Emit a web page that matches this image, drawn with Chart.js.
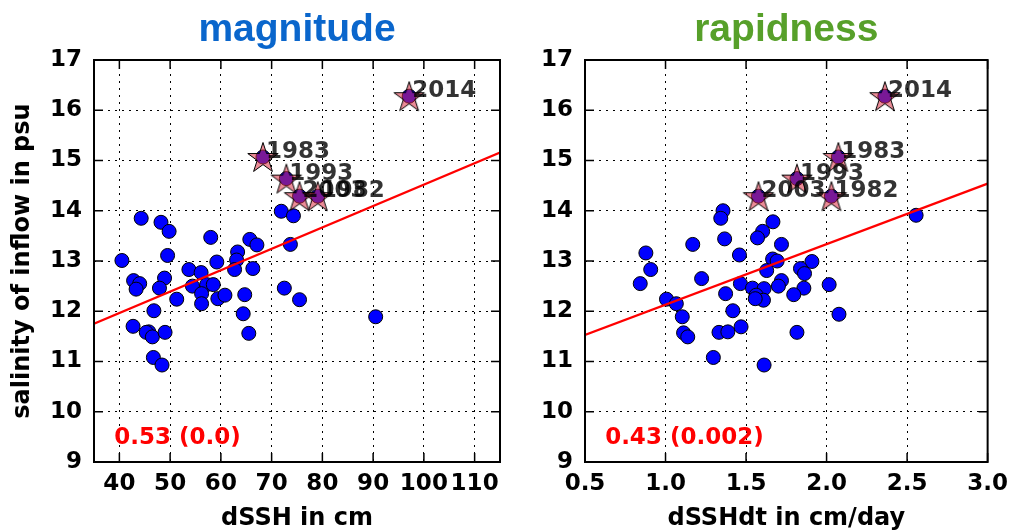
<!DOCTYPE html>
<html>
<head>
<meta charset="utf-8">
<script src="https://cdn.jsdelivr.net/npm/chart.js@4.4.0/dist/chart.umd.min.js"></script>
<style>
  html, body { margin: 0; padding: 0; background: #fff; }
  #wrap { position: relative; width: 1016px; height: 531px; }
  .panel { position: absolute; top: 0; width: 508px; height: 531px; }
</style>
</head>
<body>
<div id="wrap">
  <div class="panel" style="left:0"><canvas id="mag" width="508" height="531"></canvas></div>
  <div class="panel" style="left:508px"><canvas id="rap" width="508" height="531"></canvas></div>
</div>
<script>
// salinity vs dSSH (left) and dSSHdt (right)
const magX = [44.3, 48.2, 49.8, 71.9, 74.3, 58.0, 65.7, 67.1, 73.7, 63.3, 49.5, 40.5, 59.2, 63.1, 62.7,
  66.3, 53.7, 56.1, 42.8, 44.0, 48.9, 43.3, 47.9, 54.4, 57.2, 58.5, 56.2, 51.3, 59.4, 60.8,
  64.7, 56.2, 72.5, 75.5, 46.8, 64.4, 90.5, 42.7, 45.8, 45.3, 46.5, 49.0, 65.5, 46.7, 48.4];
const magY = [13.85, 13.77, 13.59, 13.99, 13.90, 13.47, 13.43, 13.32, 13.33, 13.18, 13.11, 13.01, 12.98, 13.02, 12.83,
  12.85, 12.83, 12.77, 12.61, 12.55, 12.66, 12.44, 12.46, 12.50, 12.53, 12.53, 12.35, 12.24, 12.25, 12.32,
  12.33, 12.15, 12.46, 12.23, 12.01, 11.95, 11.89, 11.70, 11.59, 11.58, 11.49, 11.58, 11.56, 11.08, 10.93];

const rapX = [1.357, 1.343, 1.667, 1.603, 1.571, 1.367, 1.169, 1.720, 0.878, 1.459, 1.665, 1.693, 1.909, 0.908, 1.838,
  1.628, 1.863, 1.224, 1.720, 0.843, 1.465, 2.016, 1.540, 1.612, 1.701, 1.859, 1.373, 1.796, 1.563, 1.608,
  1.557, 1.006, 1.067, 1.418, 1.104, 2.077, 1.469, 1.112, 1.138, 1.332, 1.387, 1.816, 1.297, 1.612, 2.556];
const rapY = [14.00, 13.85, 13.78, 13.59, 13.46, 13.44, 13.33, 13.33, 13.16, 13.12, 13.04, 13.00, 12.99, 12.83, 12.85,
  12.81, 12.75, 12.65, 12.61, 12.55, 12.55, 12.53, 12.46, 12.45, 12.50, 12.46, 12.35, 12.33, 12.32, 12.22,
  12.25, 12.24, 12.15, 12.01, 11.89, 11.94, 11.69, 11.57, 11.49, 11.58, 11.59, 11.58, 11.08, 10.93, 13.91];

// highlighted years
const starYears = ['2014', '1983', '1993', '2003', '1982'];
const magStarX = [97.1, 68.3, 72.9, 75.5, 79.1];
const rapStarX = [2.362, 2.073, 1.816, 1.577, 2.030];
const starY = [16.28, 15.07, 14.64, 14.29, 14.29];

// regression line end points
const magFitX = [35, 115];
const magFitY = [11.75, 15.16];
const rapFitX = [0.5, 3.0];
const rapFitY = [11.53, 14.54];

// axis ticks
const magTicks = [40, 50, 60, 70, 80, 90, 100, 110];
const rapTicks = [0.5, 1.0, 1.5, 2.0, 2.5, 3.0];
const salTicks = [9, 10, 11, 12, 13, 14, 15, 16, 17];

const magCorr = '0.53 (0.0)';
const rapCorr = '0.43 (0.002)';

const tickFont = { family: 'DejaVu Sans', size: 23, weight: 'bold' };
const labelFont = { family: 'DejaVu Sans', size: 24, weight: 'bold', lineHeight: 1 };

// filled star marker
function makeStar() {
  const c = document.createElement('canvas');
  c.width = 36; c.height = 36;
  const g = c.getContext('2d');
  const R = 16, r = R * 0.382;
  g.beginPath();
  for (let i = 0; i < 10; i++) {
    const a = -Math.PI / 2 + i * Math.PI / 5;
    const rr = i % 2 === 0 ? R : r;
    const px = 18 + rr * Math.cos(a), py = 19.5 + rr * Math.sin(a);
    if (i === 0) g.moveTo(px, py); else g.lineTo(px, py);
  }
  g.closePath();
  g.fillStyle = 'rgba(220, 45, 65, 0.55)';
  g.fill();
  g.lineWidth = 1;
  g.strokeStyle = '#000';
  g.stroke();
  return c;
}
const starImg = makeStar();

function pts(xs, ys) {
  return xs.map((x, i) => ({ x: x, y: ys[i] }));
}

// frame, inward ticks, year labels and correlation text
const extras = {
  id: 'extras',
  afterDatasetsDraw(chart, args, opts) {
    const ctx = chart.ctx;
    const a = chart.chartArea;
    const sx = chart.scales.x, sy = chart.scales.y;
    ctx.save();
    ctx.strokeStyle = '#000';
    ctx.lineWidth = 1.5;
    ctx.beginPath();
    sx.ticks.forEach(t => {
      const px = sx.getPixelForValue(t.value);
      ctx.moveTo(px, a.bottom); ctx.lineTo(px, a.bottom - 9);
      ctx.moveTo(px, a.top); ctx.lineTo(px, a.top + 9);
    });
    sy.ticks.forEach(t => {
      const py = sy.getPixelForValue(t.value);
      ctx.moveTo(a.left, py); ctx.lineTo(a.left + 9, py);
      ctx.moveTo(a.right, py); ctx.lineTo(a.right - 9, py);
    });
    ctx.stroke();
    ctx.lineWidth = 2;
    ctx.strokeRect(a.left, a.top, a.right - a.left, a.bottom - a.top);

    // year labels next to stars
    const meta = chart.getDatasetMeta(1);
    ctx.font = 'bold 23px "DejaVu Sans"';
    ctx.fillStyle = 'rgba(0, 0, 0, 0.8)';
    ctx.textAlign = 'left';
    ctx.textBaseline = 'alphabetic';
    meta.data.forEach((el, i) => {
      ctx.fillText(starYears[i], el.x + 3, el.y + 1);
    });

    // correlation
    ctx.font = 'bold 23px "DejaVu Sans"';
    ctx.fillStyle = '#ff0000';
    ctx.fillText(opts.corr, a.left + 0.05 * (a.right - a.left), a.bottom - 0.045 * (a.bottom - a.top));
    ctx.restore();
  }
};

function makeChart(id, cfg) {
  return new Chart(document.getElementById(id), {
    type: 'scatter',
    data: {
      datasets: [
        {
          data: pts(cfg.x.concat(cfg.starX), cfg.y.concat(starY)),
          pointStyle: 'circle',
          pointRadius: 7,
          backgroundColor: '#0000ff',
          borderColor: '#000',
          borderWidth: 1,
          order: 3
        },
        {
          data: pts(cfg.starX, starY),
          pointStyle: starImg,
          order: 1
        },
        {
          type: 'line',
          data: pts(cfg.fitX, cfg.fitY),
          borderColor: '#ff0000',
          borderWidth: 2.2,
          pointRadius: 0,
          fill: false,
          order: 2
        }
      ]
    },
    options: {
      responsive: false,
      animation: false,
      events: [],
      layout: { padding: { top: 0, left: 0, right: cfg.padRight, bottom: 0 } },
      plugins: {
        legend: { display: false },
        tooltip: { enabled: false },
        title: {
          display: true,
          text: cfg.title,
          color: cfg.titleColor,
          fullSize: false,
          font: { family: 'Liberation Sans', size: 39, weight: 'bold' },
          padding: { top: 7, bottom: 6.2 }
        },
        extras: { corr: cfg.corr }
      },
      scales: {
        x: {
          type: 'linear',
          min: cfg.xMin,
          max: cfg.xMax,
          afterBuildTicks: s => { s.ticks = cfg.ticks.map(v => ({ value: v })); },
          afterFit: s => { s.height = 69; },
          grid: { color: '#000', lineWidth: 1, drawTicks: false },
          border: { display: false, dash: [2, 5] },
          ticks: {
            color: '#000', font: tickFont, padding: 8, autoSkip: false, maxRotation: 0,
            callback: v => cfg.fmt(v)
          },
          title: {
            display: true, text: cfg.xTitle, color: '#000', font: labelFont,
            padding: { top: 0, bottom: 0 }
          }
        },
        y: {
          type: 'linear',
          min: 9,
          max: 17,
          afterBuildTicks: s => { s.ticks = salTicks.map(v => ({ value: v })); },
          afterFit: s => { s.width = cfg.yWidth; },
          grid: { color: '#000', lineWidth: 1, drawTicks: false },
          border: { display: false, dash: [2, 5] },
          ticks: { color: '#000', font: tickFont, padding: 12, autoSkip: false },
          title: {
            display: cfg.yTitle !== '', text: cfg.yTitle, color: '#000', font: labelFont,
            padding: { top: 11, bottom: 0 }
          }
        }
      }
    },
    plugins: [extras]
  });
}

makeChart('mag', {
  x: magX, y: magY, starX: magStarX, fitX: magFitX, fitY: magFitY,
  xMin: 35, xMax: 115, ticks: magTicks, fmt: v => String(v),
  title: 'magnitude', titleColor: '#0a66cc', corr: magCorr,
  xTitle: 'dSSH in cm', yTitle: 'salinity of inflow in psu',
  yWidth: 94, padRight: 6
});

makeChart('rap', {
  x: rapX, y: rapY, starX: rapStarX, fitX: rapFitX, fitY: rapFitY,
  xMin: 0.5, xMax: 3.0, ticks: rapTicks, fmt: v => v.toFixed(1),
  title: 'rapidness', titleColor: '#57a02a', corr: rapCorr,
  xTitle: 'dSSHdt in cm/day', yTitle: '',
  yWidth: 77, padRight: 23
});
</script>
</body>
</html>
